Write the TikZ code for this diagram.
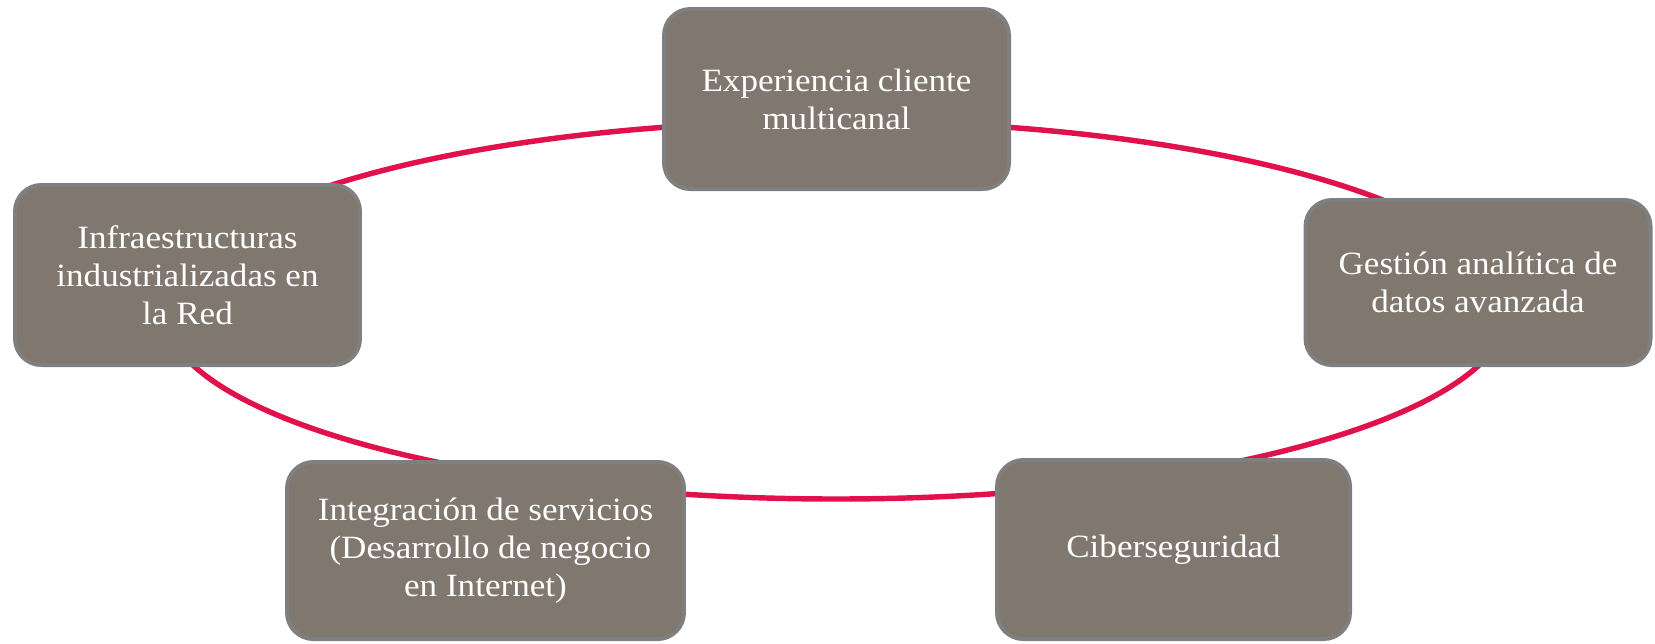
\documentclass[tikz,border=0pt]{standalone}
\usepackage{fontspec}
\setmainfont{Liberation Serif}[FakeStretch=1.08]
\definecolor{boxfill}{HTML}{80776F}
\definecolor{boxline}{HTML}{7F7F7F}
\definecolor{ringred}{HTML}{E1114C}
\begin{document}
\begin{tikzpicture}[x=0.02cm,y=-0.02cm,
  card/.style={draw=boxline, line width=2.3pt, fill=boxfill, rounded corners=15pt,
    text=white, align=center, font=\fontsize{18.5}{21.5}\selectfont, inner sep=0pt},
  ring/.style={draw=ringred, line width=3.1pt}]
\useasboundingbox (0,0) rectangle (1655,643);
\coordinate (c) at (836,310);
\draw[ring] (c) ellipse [x radius=672, y radius=189];
\node[card, minimum width=6.9cm, minimum height=3.6cm] (exp) at (836.5,99)
  {Experiencia cliente\\multicanal};
\node[card, minimum width=6.9cm, minimum height=3.6cm] (infra) at (187.5,275)
  {Infraestructuras\\industrializadas en\\la Red};
\node[card, minimum width=6.9cm, minimum height=3.3cm] (datos) at (1478,282.5)
  {Gestión analítica de\\datos avanzada};
\node[card, minimum width=7.94cm, minimum height=3.54cm] (integ) at (485.5,550.5)
  {Integración de servicios\\\hspace*{0.3em}(Desarrollo de negocio\\en Internet)};
\node[card, minimum width=7.06cm, minimum height=3.58cm] (ciber) at (1173.5,549.5)
  {Ciberseguridad};
\end{tikzpicture}
\end{document}
